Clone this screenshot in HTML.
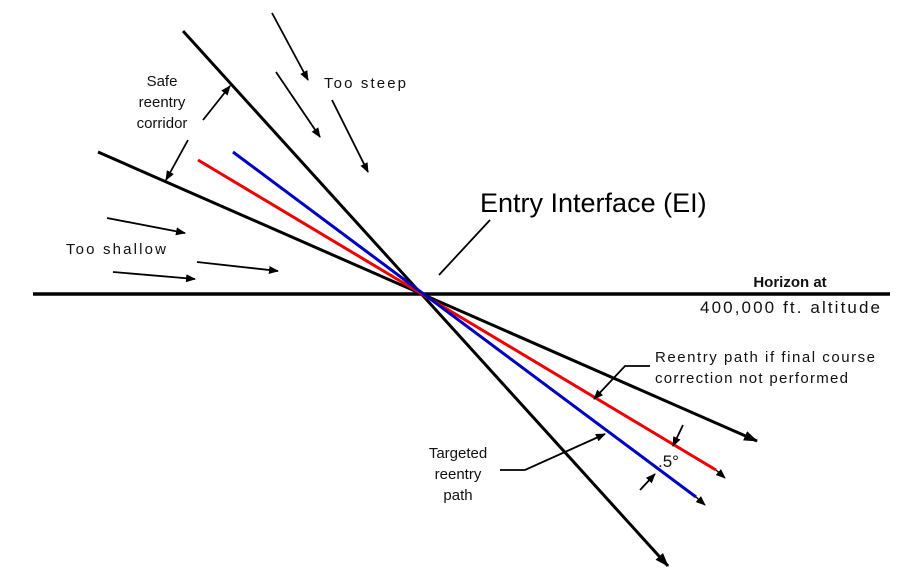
<!DOCTYPE html>
<html><head><style>
body{margin:0;background:#fff;}
svg{display:block;font-family:"Liberation Sans",sans-serif;}
</style></head><body>
<svg width="906" height="575" viewBox="0 0 906 575" xmlns="http://www.w3.org/2000/svg">
<defs>
<marker id="a" markerWidth="10" markerHeight="8" refX="9" refY="4" orient="auto" markerUnits="userSpaceOnUse">
<path d="M0,0 L10,4 L0,8 z" fill="#000"/></marker>
<marker id="b" markerWidth="14" markerHeight="10" refX="13" refY="5" orient="auto" markerUnits="userSpaceOnUse">
<path d="M0,0 L14,5 L0,10 z" fill="#000"/></marker>
</defs>
<g stroke="#000" fill="none">
<line x1="33" y1="294" x2="890" y2="294" stroke-width="3.5"/>
<line x1="183" y1="31" x2="668" y2="566" stroke-width="3" marker-end="url(#b)"/>
<line x1="98" y1="152" x2="757" y2="441" stroke-width="3" marker-end="url(#b)"/>
</g>
<line x1="198" y1="160" x2="716" y2="470" stroke="#e00" stroke-width="3"/>
<line x1="716" y1="470" x2="725" y2="478" stroke="#000" stroke-width="1.5" marker-end="url(#a)"/>
<line x1="233" y1="152" x2="696" y2="497" stroke="#0000c0" stroke-width="3"/>
<line x1="696" y1="497" x2="705" y2="505" stroke="#000" stroke-width="1.5" marker-end="url(#a)"/>
<g stroke="#000" stroke-width="1.8" fill="none">
<line x1="272" y1="13" x2="308" y2="80" marker-end="url(#a)"/>
<line x1="276" y1="72" x2="320" y2="137" marker-end="url(#a)"/>
<line x1="332" y1="100" x2="368" y2="172" marker-end="url(#a)"/>
<line x1="107" y1="218" x2="185" y2="233" marker-end="url(#a)"/>
<line x1="113" y1="272" x2="195" y2="279" marker-end="url(#a)"/>
<line x1="197" y1="262" x2="278" y2="271" marker-end="url(#a)"/>
<line x1="439" y1="275" x2="490" y2="220"/>
<line x1="203" y1="120" x2="230" y2="86" marker-end="url(#a)"/>
<line x1="188" y1="140" x2="166" y2="180" marker-end="url(#a)"/>
<polyline points="650,366 625,366 594,399" marker-end="url(#a)"/>
<polyline points="500,470 525,470 605,434" marker-end="url(#a)"/>
<line x1="683" y1="425" x2="673" y2="446" marker-end="url(#a)"/>
<line x1="640" y1="490" x2="655" y2="474" marker-end="url(#a)"/>
</g>
<g font-size="15" fill="#111" text-anchor="middle">
<text x="162" y="86">Safe</text>
<text x="162" y="107">reentry</text>
<text x="162" y="128">corridor</text>
<text x="365" y="88" textLength="82">Too steep</text>
<text x="116" y="254" textLength="100">Too shallow</text>
<text x="790" y="287" font-weight="bold" font-size="15">Horizon at</text>
<text x="458" y="458">Targeted</text>
<text x="458" y="479">reentry</text>
<text x="458" y="500">path</text>
</g>
<text x="700" y="313" font-size="17" fill="#111" textLength="180">400,000 ft. altitude</text>
<g font-size="15" fill="#111">
<text x="655" y="362" textLength="220">Reentry path if final course</text>
<text x="655" y="383" textLength="193">correction not performed</text>
<text x="658" y="467" font-size="17">.5°</text>
</g>
<text x="480" y="212" font-size="27" fill="#000">Entry Interface (EI)</text>
</svg>
</body></html>
